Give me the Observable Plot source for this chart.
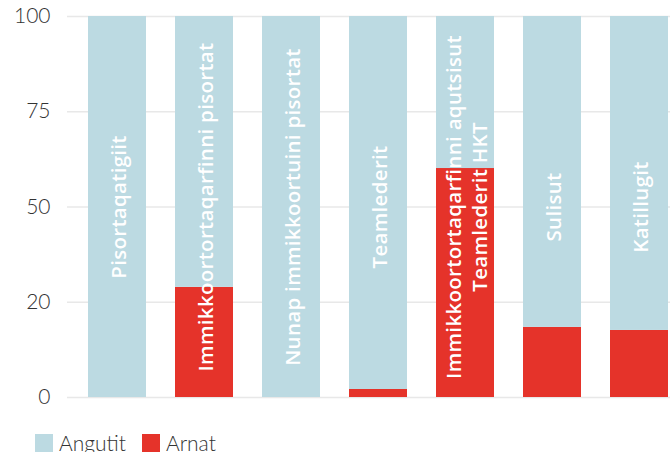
<!DOCTYPE html>
<html><head><meta charset="utf-8">
<script src="https://cdn.jsdelivr.net/npm/d3@7"></script>
<script src="https://cdn.jsdelivr.net/npm/@observablehq/plot@0.6"></script>
<style>
body{margin:0;background:#fff;font-family:Lato,sans-serif;}
#chart svg{display:block;}
#legend{display:flex;align-items:center;margin-left:35px;margin-top:23px;font-family:Lato,sans-serif;font-weight:300;font-size:21px;color:#333;line-height:20px;}
#legend .item{display:flex;align-items:center;margin-right:16px;}
#legend .sw{width:18px;height:18px;margin-right:6px;}
.barlabel text{letter-spacing:0.3px;}
</style></head><body><div id="chart"></div><div id="legend"></div>
<script>
const categories = ["Pisortaqatigiit", "Immikkoortortaqarfinni pisortat", "Nunap immikkoortuini pisortat", "Teamlederit", "Immikkoortortaqarfinni aqutsisut Teamlederit HKT", "Sulisut", "Katillugit"];
const barLabels = ["Pisortaqatigiit", "Immikkoortortaqarfinni pisortat", "Nunap immikkoortuini pisortat", "Teamlederit", "Immikkoortortaqarfinni aqutsisut\nTeamlederit HKT", "Sulisut", "Katillugit"];
const arnat = [0, 28.9, 0, 2.1, 60.1, 18.4, 17.6];
const angutit = [100, 71.1, 100, 97.9, 39.9, 81.6, 82.4];
const seriesNames = ["Arnat", "Angutit"];
const legendNames = ["Angutit", "Arnat"];
const seriesColors = {"Angutit": "#bcdae2", "Arnat": "#e5332a"};
const tickValues = [0, 25, 50, 75, 100];
const tickLabels = ["0", "20", "50", "75", "100"];

const rows = [];
categories.forEach((c, i) => {
  rows.push({cat: c, series: "Arnat", value: arnat[i]});
  rows.push({cat: c, series: "Angutit", value: angutit[i]});
});
const labelRows = categories.map((c, i) => ({cat: c, label: barLabels[i], mid: 50}));

const chart = Plot.plot({
  width: 670,
  height: 410,
  marginTop: 16,
  marginBottom: 13,
  marginLeft: 67,
  marginRight: 0,
  style: {fontFamily: "Lato, sans-serif", background: "#fff"},
  x: {domain: categories, range: [88, 668], paddingInner: 1/3, paddingOuter: 0, axis: null},
  y: {domain: [0, 100], axis: null},
  color: {domain: Object.keys(seriesColors), range: Object.values(seriesColors)},
  marks: [
    Plot.gridY(tickValues, {stroke: "#e8e8e8", strokeOpacity: 1, strokeWidth: 1.5}),
    Plot.barY(rows, {x: "cat", y: "value", fill: "series", order: seriesNames}),
    Plot.axisY(tickValues, {tickSize: 0, tickPadding: 17, tickFormat: (d) => tickLabels[tickValues.indexOf(d)], fontSize: 21, fontWeight: 300, fill: "#333", textAnchor: "end"}),
    Plot.text(labelRows, {x: "cat", y: "mid", text: "label", rotate: -90, fill: "#fff", fontSize: 20.5, fontWeight: 600, lineHeight: 1.27, fontFamily: "Open Sans, sans-serif", textAnchor: "middle", className: "barlabel"})
  ]
});
document.getElementById("chart").appendChild(chart);

const leg = document.getElementById("legend");
legendNames.forEach(n => {
  const it = document.createElement("div");
  it.className = "item";
  const sw = document.createElement("div");
  sw.className = "sw";
  sw.style.background = seriesColors[n];
  const t = document.createElement("span");
  t.textContent = n;
  it.appendChild(sw); it.appendChild(t);
  leg.appendChild(it);
});
</script></body></html>
